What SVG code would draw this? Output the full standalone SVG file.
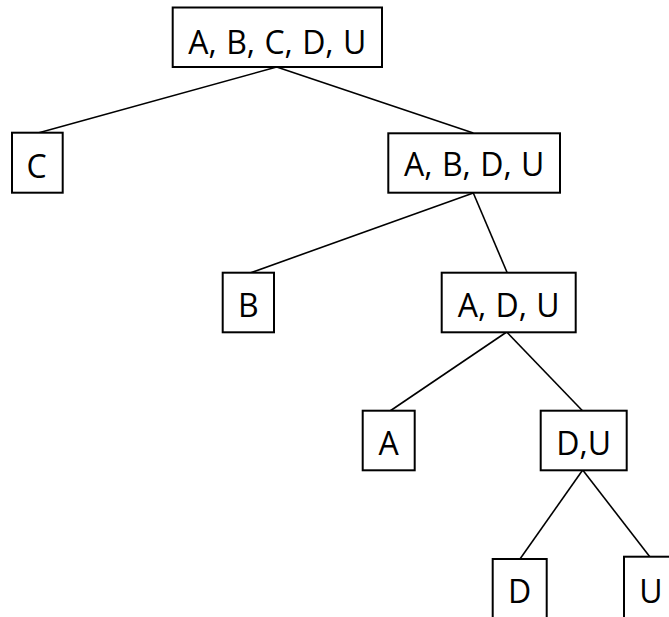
<svg xmlns="http://www.w3.org/2000/svg" width="669" height="617" viewBox="0 0 669 617">
<style>
.box{fill:#fff;stroke:#000;stroke-width:2}
.lbl{font-family:"Open Sans","Noto Sans",sans-serif;font-size:32px;fill:#000;text-anchor:middle;word-spacing:1px}
.edge{stroke:#000;stroke-width:1.6;fill:none}
</style>
<rect width="669" height="617" fill="#fff"/>
<g id="connectors">
<line class="edge" x1="276.7" y1="67" x2="38" y2="133"/>
<line class="edge" x1="276.7" y1="67" x2="473.3" y2="133"/>
<line class="edge" x1="473.3" y1="193" x2="250" y2="273"/>
<line class="edge" x1="473.3" y1="193" x2="507.3" y2="273"/>
<line class="edge" x1="506.7" y1="332" x2="390" y2="411"/>
<line class="edge" x1="506.7" y1="332" x2="582.7" y2="411"/>
<line class="edge" x1="582.7" y1="470" x2="520" y2="559"/>
<line class="edge" x1="582.7" y1="470" x2="650" y2="557"/>
</g>
<g id="n-root"><rect class="box" x="172.7" y="7.5" width="209.3" height="59.5"/><text class="lbl" x="277.3" y="54">A, B, C, D, U</text></g>
<g id="n-C"><rect class="box" x="12" y="132.7" width="50.7" height="60"/><text class="lbl" x="36.5" y="177.5">C</text></g>
<g id="n-ABDU"><rect class="box" x="388.3" y="133.3" width="171.7" height="59.4"/><text class="lbl" x="474.2" y="175.5">A, B, D, U</text></g>
<g id="n-B"><rect class="box" x="222.7" y="272.7" width="51.3" height="59.6"/><text class="lbl" x="248.3" y="317">B</text></g>
<g id="n-ADU"><rect class="box" x="441.7" y="272.7" width="134" height="59.6"/><text class="lbl" x="508.7" y="317">A, D, U</text></g>
<g id="n-A"><rect class="box" x="362.7" y="410.7" width="52" height="59.6"/><text class="lbl" x="388.7" y="454.5">A</text></g>
<g id="n-DU"><rect class="box" x="540.7" y="410.7" width="86" height="59.6"/><text class="lbl" x="583.7" y="454.5">D,U</text></g>
<g id="n-D"><rect class="box" x="492.7" y="559" width="54" height="70"/><text class="lbl" x="519.7" y="602.5">D</text></g>
<g id="n-U"><rect class="box" x="624" y="556.7" width="54" height="70"/><text class="lbl" x="651" y="602.5">U</text></g>
</svg>
